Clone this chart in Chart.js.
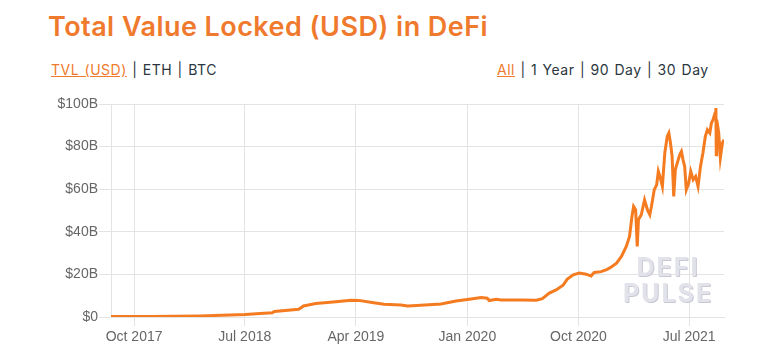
<!DOCTYPE html>
<html>
<head>
<meta charset="utf-8">
<script src="https://cdn.jsdelivr.net/npm/chart.js@4.4.0/dist/chart.umd.min.js"></script>
<style>
  body { margin: 0; width: 772px; height: 364px; background: #fff; position: relative; overflow: hidden; font-family: Inter, "Open Sans", sans-serif; }
  #title { position: absolute; left: 48px; top: 10px; font-size: 27px; letter-spacing: 0.45px; font-weight: 600; color: #ef7a2d; white-space: nowrap; line-height: 33px; }
  .tabs { position: absolute; top: 60px; font-size: 14px; letter-spacing: 0.5px; word-spacing: 1px; color: #2b3640; white-space: nowrap; line-height: 20px; }
  .tabs a { color: #ef7a2d; text-decoration: underline; }
  #left { left: 51px; }
  #right { left: 497px; }
  #wrap { position: absolute; left: 0; top: 90px; width: 772px; height: 274px; }
  #mark { position: absolute; left: 618px; top: 254px; width: 100px; text-align: center; font: 700 25px/26px Inter, sans-serif; color: #e2e2ea; letter-spacing: 2px; text-shadow: 1px 1px 0 #c9c9d6; pointer-events: none; }
</style>
</head>
<body>
<div id="title">Total Value Locked (USD) in DeFi</div>
<div class="tabs" id="left"><a>TVL (USD)</a> | ETH | BTC</div>
<div class="tabs" id="right"><a>All</a> | 1 Year | 90 Day | 30 Day</div>
<div id="wrap"><canvas id="chart"></canvas></div>
<div id="mark">DEFI<br>PULSE</div>
<script>
// values, TVL in billions USD
const dates = [
  '2017-08-05', '2017-11-09', '2018-03-13', '2018-07-02', '2018-08-08', '2018-09-07', '2018-09-12',
  '2018-11-11', '2018-11-23', '2018-12-23', '2019-02-11', '2019-03-20', '2019-04-08', '2019-05-15',
  '2019-06-09', '2019-07-21', '2019-08-07', '2019-09-08', '2019-10-28', '2019-12-04', '2020-01-10',
  '2020-02-04', '2020-02-19', '2020-02-24', '2020-03-12', '2020-03-24', '2020-05-13', '2020-06-19',
  '2020-07-04', '2020-07-21', '2020-08-07', '2020-08-24', '2020-09-03', '2020-09-18', '2020-10-03',
  '2020-10-20', '2020-11-01', '2020-11-09', '2020-11-26', '2020-12-11', '2020-12-21', '2021-01-03',
  '2021-01-15', '2021-01-27', '2021-02-04', '2021-02-10', '2021-02-14', '2021-02-19', '2021-02-23',
  '2021-02-26', '2021-03-05', '2021-03-13', '2021-03-20', '2021-03-26', '2021-03-30', '2021-04-06',
  '2021-04-12', '2021-04-16', '2021-04-20', '2021-04-26', '2021-05-02', '2021-05-08', '2021-05-12',
  '2021-05-16', '2021-05-20', '2021-05-24', '2021-05-28', '2021-06-04', '2021-06-08', '2021-06-12',
  '2021-06-16', '2021-06-20', '2021-06-24', '2021-06-30', '2021-07-05', '2021-07-11', '2021-07-17',
  '2021-07-23', '2021-07-29', '2021-08-04', '2021-08-10', '2021-08-15', '2021-08-21', '2021-08-25',
  '2021-08-29', '2021-09-03', '2021-09-05', '2021-09-06', '2021-09-07', '2021-09-12', '2021-09-16',
  '2021-09-21', '2021-09-25'
];
const tvl = [
  0.2, 0.2, 0.5, 1.2, 1.6, 2.0, 2.6,
  3.6, 5.2, 6.3, 7.2, 7.9, 7.8, 6.7,
  6.0, 5.6, 5.2, 5.5, 6.1, 7.5, 8.5,
  9.1, 8.8, 7.7, 8.3, 8.0, 8.0, 7.9,
  8.6, 11.2, 12.7, 14.9, 17.7, 19.8, 20.6,
  20.1, 19.3, 20.9, 21.3, 22.4, 23.5, 25.3,
  28.4, 33.1, 37.8, 47.2, 51.9, 50.4, 33.1,
  45.7, 48.0, 55.0, 50.4, 48.0, 51.9, 59.8,
  62.1, 68.4, 66.0, 61.3, 77.0, 84.8, 86.4,
  81.7, 75.4, 56.6, 69.2, 73.8, 76.2, 77.7,
  73.8, 70.7, 59.8, 62.9, 68.4, 64.5, 66.0,
  61.3, 70.7, 77.0, 84.8, 87.9, 86.4, 91.1,
  92.6, 95.8, 98.1, 76.2, 92.6, 86.4, 74.8,
  81.7, 83.2
];
const tickDates = ['2017-10-01', '2018-07-01', '2019-04-01', '2020-01-01', '2020-10-01', '2021-07-01'];
const tickLabels = ['Oct 2017', 'Jul 2018', 'Apr 2019', 'Jan 2020', 'Oct 2020', 'Jul 2021'];

const EPOCH = Date.UTC(2017, 7, 1);
function toDay(s) {
  const [y, m, d] = s.split('-').map(Number);
  return (Date.UTC(y, m - 1, d) - EPOCH) / 86400000;
}

const points = dates.map((d, i) => ({ x: toDay(d), y: tvl[i] }));
const tickDays = tickDates.map(toDay);
const gridColor = '#e3e3e3';
const tickFont = { family: '"Liberation Sans", Arial, sans-serif', size: 14 };

new Chart(document.getElementById('chart'), {
  type: 'line',
  data: {
    datasets: [{
      data: points,
      borderColor: '#f47b20',
      borderWidth: 3,
      pointRadius: 0,
      tension: 0,
      fill: false,
    }],
  },
  options: {
    responsive: true,
    maintainAspectRatio: false,
    animation: false,
    layout: { padding: { left: 0, right: 48, top: 14, bottom: 15 } },
    plugins: { legend: { display: false }, tooltip: { enabled: false } },
    scales: {
      x: {
        type: 'linear',
        min: points[0].x,
        max: points[points.length - 1].x,
        afterBuildTicks: s => { s.ticks = tickDays.map(v => ({ value: v })); },
        afterFit: s => { s.height = 32; },
        ticks: {
          color: '#666',
          font: tickFont,
          padding: 3,
          maxRotation: 0,
          autoSkip: false,
          callback: v => tickLabels[tickDays.indexOf(v)],
        },
        grid: { color: gridColor, tickLength: 9 },
        border: { color: gridColor },
      },
      y: {
        min: 0,
        max: 100,
        afterFit: s => { s.width = 111; },
        ticks: {
          stepSize: 20,
          color: '#666',
          font: tickFont,
          padding: 1,
          callback: v => v === 0 ? '$0' : '$' + v + 'B',
        },
        grid: { color: gridColor, tickLength: 12 },
        border: { color: gridColor },
      },
    },
  },
});
</script>
</body>
</html>
